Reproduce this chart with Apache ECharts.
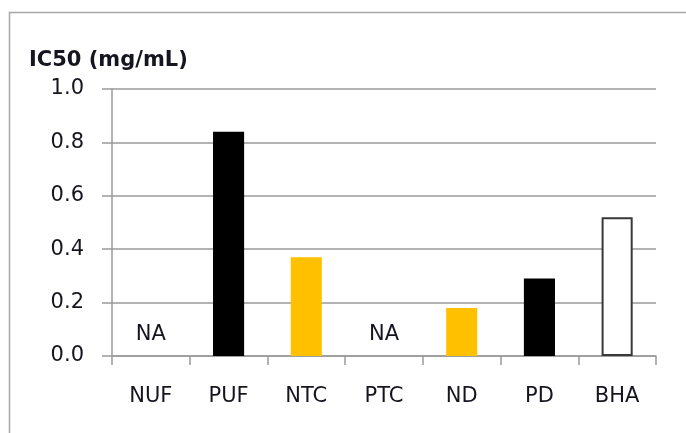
<!DOCTYPE html>
<html>
<head>
<meta charset="utf-8">
<script src="https://cdn.jsdelivr.net/npm/echarts@6/dist/echarts.min.js"></script>
<style>html,body{margin:0;padding:0;background:#fff}#c{width:686px;height:433px}</style>
</head>
<body>
<div id="c"></div>
<script>
const categories = ['NUF', 'PUF', 'NTC', 'PTC', 'ND', 'PD', 'BHA'];
const values = [0, 0.84, 0.37, 0, 0.18, 0.29, 0.52];
const notAvailable = [true, false, false, true, false, false, false];
const barColors = ['#000000', '#000000', '#FFC000', '#000000', '#FFC000', '#000000', '#FFFFFF'];
const yTicks = [0, 0.2, 0.4, 0.6, 0.8, 1.0];

const chart = echarts.init(document.getElementById('c'));
const font = '"DejaVu Sans", "Liberation Sans", sans-serif';
const textColor = '#15151f';
chart.setOption({
  animation: false,
  backgroundColor: '#fff',
  graphic: [{
    type: 'rect', silent: true, z: -1,
    shape: { x: 9.5, y: 12.5, width: 700, height: 500 },
    style: { fill: 'none', stroke: '#a6a6a6', lineWidth: 1.5 }
  }],
  title: {
    text: 'IC50 (mg/mL)', left: 24, top: 45,
    textStyle: { fontFamily: font, fontSize: 21, fontWeight: 'bold', color: textColor }
  },
  grid: { left: 112, right: 30, top: 89, bottom: 77 },
  xAxis: {
    type: 'category', data: categories,
    axisLine: { lineStyle: { color: '#9a9a9a', width: 1.5 } },
    axisTick: { show: true, length: 9, alignWithLabel: false, lineStyle: { color: '#9a9a9a', width: 1.5 } },
    axisLabel: { margin: 30, fontFamily: font, fontSize: 21, color: textColor }
  },
  yAxis: {
    type: 'value', min: 0, max: 1, interval: 0.2,
    axisLine: { show: true, lineStyle: { color: '#9a9a9a', width: 1.5 } },
    axisTick: { show: true, length: 10, lineStyle: { color: '#9a9a9a', width: 1.5 } },
    splitLine: { lineStyle: { color: '#9a9a9a', width: 1.5 } },
    axisLabel: {
      margin: 28, fontFamily: font, fontSize: 21, color: textColor,
      formatter: v => yTicks.includes(Math.round(v * 10) / 10) ? v.toFixed(1) : ''
    }
  },
  series: [{
    type: 'bar', barWidth: '40%',
    data: values.map((v, i) => ({
      value: v,
      itemStyle: { color: barColors[i], borderColor: i === 6 ? '#383838' : barColors[i], borderWidth: i === 6 ? 2 : 0 },
      label: notAvailable[i] ? {
        show: true, position: 'top', distance: 11, formatter: 'NA',
        fontFamily: font, fontSize: 21, color: textColor
      } : { show: false }
    }))
  }]
});
</script>
</body>
</html>
